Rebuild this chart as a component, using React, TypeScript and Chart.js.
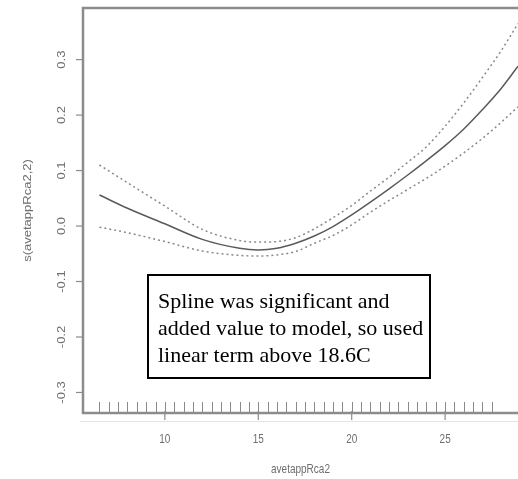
import React, { useEffect, useRef } from "react";
import { Chart, registerables } from "chart.js";

Chart.register(...registerables);

// ---- data ----
const xValues = [6.5, 8, 10, 12, 14, 15, 16, 17, 18, 19, 20, 21, 22, 23, 24, 25, 26, 27, 28, 28.9];
const fitValues = [0.056, 0.032, 0.004, -0.024, -0.04, -0.043, -0.04, -0.031, -0.018, -0.001, 0.02, 0.043, 0.067, 0.092, 0.118, 0.145, 0.175, 0.21, 0.248, 0.288];
const upperValues = [0.11, 0.078, 0.036, -0.006, -0.026, -0.029, -0.028, -0.021, -0.005, 0.015, 0.037, 0.063, 0.088, 0.115, 0.143, 0.18, 0.222, 0.268, 0.316, 0.365];
const lowerValues = [-0.002, -0.012, -0.028, -0.045, -0.053, -0.054, -0.052, -0.046, -0.031, -0.017, 0.002, 0.025, 0.046, 0.066, 0.086, 0.108, 0.132, 0.158, 0.187, 0.215];
const rugValues = [6.5, 7, 7.5, 8, 8.5, 9, 9.5, 10, 10.5, 11, 11.5, 12, 12.5, 13, 13.5, 14, 14.5, 15, 15.5, 16, 16.5, 17, 17.5, 18, 18.5, 19, 19.5, 20, 20.5, 21, 21.5, 22, 22.5, 23, 23.5, 24, 24.5, 25, 25.5, 26, 26.5, 27, 27.5];
const xTicks = [10, 15, 20, 25];
const xTickLabels = ["10", "15", "20", "25"];
const yTicks = [-0.3, -0.2, -0.1, 0, 0.1, 0.2, 0.3];
const yTickLabels = ["-0.3", "-0.2", "-0.1", "0.0", "0.1", "0.2", "0.3"];
const xTitle = "avetappRca2";
const yTitle = "s(avetappRca2,2)";
const noteLines = ["Spline was significant and", "added value to model, so used", "linear term above 18.6C"];

const toPoints = (ys: number[]) => xValues.map((x, i) => ({ x, y: ys[i] }));

const rPlotPlugin = {
  id: "rPlot",
  afterDraw(chart: any) {
    const { ctx, chartArea, scales } = chart;
    const xs = scales.x;
    const ys = scales.y;
    const left = chartArea.left;
    const top = chartArea.top;
    const bottom = chartArea.bottom;
    const right = chartArea.right;
    const axisColor = "#8c8c8c";
    const textColor = "#6e6e6e";
    const stretch = 1.3;
    ctx.save();

    // rug
    ctx.strokeStyle = "#8a8a8a";
    ctx.lineWidth = 1;
    ctx.beginPath();
    rugValues.forEach((v) => {
      const px = Math.round(xs.getPixelForValue(v)) + 0.5;
      ctx.moveTo(px, bottom);
      ctx.lineTo(px, bottom - 11);
    });
    ctx.stroke();

    // box
    ctx.strokeStyle = axisColor;
    ctx.lineWidth = 2.5;
    ctx.strokeRect(left, top, right - left + 20, bottom - top);

    // faint axis line below
    ctx.strokeStyle = "#e4e4e4";
    ctx.lineWidth = 1;
    ctx.beginPath();
    ctx.moveTo(left - 3, bottom + 8.5);
    ctx.lineTo(right, bottom + 8.5);
    ctx.stroke();

    // y ticks + labels
    ctx.strokeStyle = axisColor;
    ctx.lineWidth = 1.2;
    ctx.fillStyle = textColor;
    ctx.font = "10px 'Liberation Sans', Arial, sans-serif";
    ctx.textAlign = "center";
    ctx.textBaseline = "alphabetic";
    yTicks.forEach((v, i) => {
      const py = ys.getPixelForValue(v);
      ctx.beginPath();
      ctx.moveTo(left - 7, py);
      ctx.lineTo(left, py);
      ctx.stroke();
      ctx.save();
      ctx.translate(65, py);
      ctx.rotate(-Math.PI / 2);
      ctx.scale(stretch, 1);
      ctx.fillText(yTickLabels[i], 0, 0);
      ctx.restore();
    });

    // x ticks + labels
    xTicks.forEach((v, i) => {
      const px = xs.getPixelForValue(v);
      ctx.beginPath();
      ctx.moveTo(px, bottom - 2);
      ctx.lineTo(px, bottom + 7);
      ctx.stroke();
      ctx.save();
      ctx.translate(px, 443);
      ctx.scale(1, stretch);
      ctx.fillText(xTickLabels[i], 0, 0);
      ctx.restore();
    });

    // titles
    ctx.save();
    ctx.translate((left + right) / 2, 473);
    ctx.scale(1, stretch);
    ctx.fillText(xTitle, 0, 0);
    ctx.restore();

    ctx.save();
    ctx.translate(31, (top + bottom) / 2);
    ctx.rotate(-Math.PI / 2);
    ctx.scale(stretch, 1);
    ctx.fillText(yTitle, 0, 0);
    ctx.restore();

    // note box
    const bx = 148;
    const by = 275;
    const bw = 282;
    const bh = 103;
    ctx.fillStyle = "#ffffff";
    ctx.fillRect(bx, by, bw, bh);
    ctx.strokeStyle = "#000000";
    ctx.lineWidth = 2;
    ctx.strokeRect(bx, by, bw, bh);
    ctx.fillStyle = "#000000";
    ctx.font = "22px 'Liberation Serif', 'Times New Roman', serif";
    ctx.textAlign = "left";
    noteLines.forEach((line, i) => {
      ctx.fillText(line, 158, 308 + i * 27);
    });

    ctx.restore();
  },
};

export default function App() {
  const canvasRef = useRef<HTMLCanvasElement | null>(null);

  useEffect(() => {
    if (!canvasRef.current) return;
    const chart = new Chart(canvasRef.current, {
      type: "line",
      data: {
        datasets: [
          {
            label: "fit",
            data: toPoints(fitValues),
            borderColor: "#5a5a5a",
            borderWidth: 1.5,
            pointRadius: 0,
            cubicInterpolationMode: "monotone",
            fill: false,
          },
          {
            label: "upper",
            data: toPoints(upperValues),
            borderColor: "#8a8a8a",
            borderWidth: 1.5,
            borderDash: [2, 3],
            pointRadius: 0,
            cubicInterpolationMode: "monotone",
            fill: false,
          },
          {
            label: "lower",
            data: toPoints(lowerValues),
            borderColor: "#8a8a8a",
            borderWidth: 1.5,
            borderDash: [2, 3],
            pointRadius: 0,
            cubicInterpolationMode: "monotone",
            fill: false,
          },
        ],
      },
      options: {
        responsive: false,
        animation: false,
        devicePixelRatio: 1,
        layout: { padding: { left: 83, top: 8, right: 0, bottom: 66 } },
        scales: {
          x: { type: "linear", min: 5.62, max: 28.9, display: false },
          y: { type: "linear", min: -0.337, max: 0.393, display: false },
        },
        plugins: {
          legend: { display: false },
          tooltip: { enabled: false },
        },
      },
      plugins: [rPlotPlugin],
    });
    return () => chart.destroy();
  }, []);

  return (
    <div style={{ position: "fixed", left: 0, top: 0, width: 518, height: 479, background: "#ffffff" }}>
      <canvas ref={canvasRef} width={518} height={479} style={{ display: "block" }} />
    </div>
  );
}
